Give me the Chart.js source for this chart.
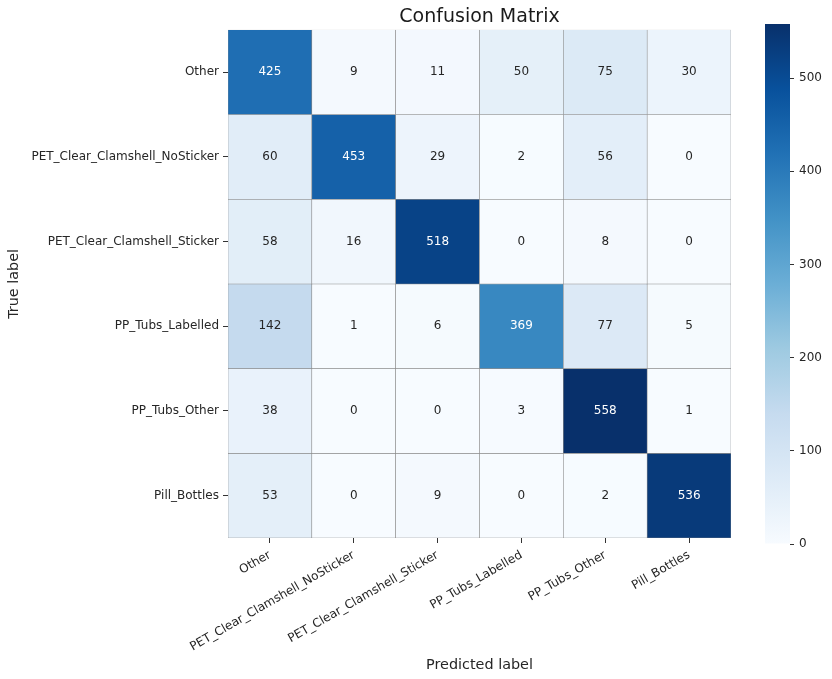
<!DOCTYPE html>
<html><head><meta charset="utf-8">
<script src="https://cdn.jsdelivr.net/npm/chart.js@4.4.1/dist/chart.umd.min.js"></script>
<style>
html,body{margin:0;padding:0;background:#fff;}
#wrap{position:relative;width:832px;height:679px;overflow:hidden;}
#c1box{position:absolute;left:0;top:0;width:832px;height:679px;}
#c2box{position:absolute;left:740px;top:0;width:92px;height:679px;}
</style></head><body>
<div id="wrap"><div id="c1box"><canvas id="c1"></canvas></div><div id="c2box"><canvas id="c2"></canvas></div></div>
<script>
// ---- data ----
const classLabels = ['Other','PET_Clear_Clamshell_NoSticker','PET_Clear_Clamshell_Sticker','PP_Tubs_Labelled','PP_Tubs_Other','Pill_Bottles'];
const rowOther          = [425,   9,  11,  50,  75,  30];
const rowNoSticker      = [ 60, 453,  29,   2,  56,   0];
const rowSticker        = [ 58,  16, 518,   0,   8,   0];
const rowTubsLabelled   = [142,   1,   6, 369,  77,   5];
const rowTubsOther      = [ 38,   0,   0,   3, 558,   1];
const rowPillBottles    = [ 53,   0,   9,   0,   2, 536];
const matrixRows = [rowOther,rowNoSticker,rowSticker,rowTubsLabelled,rowTubsOther,rowPillBottles];
const colorbarTicks = [0,100,200,300,400,500];
const vmin = 0;
const vmax = Math.max(...matrixRows.flat());

// ---- Blues colormap ----
const BLUES = [[247,251,255],[222,235,247],[198,219,239],[158,202,225],[107,174,214],[66,146,198],[33,113,181],[8,81,156],[8,48,107]];
function bluesRGB(t){
  t = Math.min(1, Math.max(0, t));
  const p = t*8, i = Math.min(7, Math.floor(p)), f = p - i;
  const a = BLUES[i], b = BLUES[i+1];
  return [0,1,2].map(k => Math.round(a[k] + (b[k]-a[k])*f));
}
function rgbStr(c){ return 'rgb(' + c.join(',') + ')'; }
function cellColor(v){ return rgbStr(bluesRGB((v - vmin)/(vmax - vmin))); }
function textColor(v){
  const c = bluesRGB((v - vmin)/(vmax - vmin)).map(x => { x/=255; return x <= 0.03928 ? x/12.92 : Math.pow((x+0.055)/1.055, 2.4); });
  const lum = 0.2126*c[0] + 0.7152*c[1] + 0.0722*c[2];
  return lum > 0.408 ? '#262626' : '#ffffff';
}

Chart.defaults.font.family = '"DejaVu Sans", sans-serif';
Chart.defaults.color = '#262626';

const cellText = {
  id: 'cellText',
  afterDatasetsDraw(chart){
    const ctx = chart.ctx;
    ctx.save();
    ctx.font = '12px "DejaVu Sans"';
    ctx.textAlign = 'center';
    ctx.textBaseline = 'middle';
    chart.data.datasets.forEach((ds, di) => {
      const meta = chart.getDatasetMeta(di);
      meta.data.forEach((el, ci) => {
        const v = matrixRows[di][ci];
        const p = el.getProps(['x','y','base'], true);
        ctx.fillStyle = textColor(v);
        ctx.fillText(String(v), p.x, (p.y + p.base)/2);
      });
    });
    ctx.restore();
  }
};

new Chart(document.getElementById('c1'), {
  type: 'bar',
  data: {
    labels: classLabels,
    datasets: matrixRows.map((row, ri) => ({
      label: classLabels[ri],
      data: row.map(() => [ri - 0.5, ri + 0.5]),
      backgroundColor: row.map(cellColor),
      borderColor: '#8c8c8c',
      borderWidth: 0.6,
      borderSkipped: false,
      categoryPercentage: 1,
      barPercentage: 1,
      grouped: false
    }))
  },
  options: {
    responsive: true,
    maintainAspectRatio: false,
    animation: false,
    events: [],
    layout: { padding: { left: 0, right: 101, top: 0, bottom: 2 } },
    plugins: {
      legend: { display: false },
      tooltip: { enabled: false },
      title: {
        display: true, text: 'Confusion Matrix', fullSize: false,
        color: '#1a1a1a',
        font: { size: 19, weight: 'normal' },
        padding: { top: 6, bottom: 1 }
      }
    },
    scales: {
      x: {
        type: 'category',
        offset: true,
        afterFit: s => { s.height = 139; },
        ticks: { minRotation: 30, maxRotation: 30, autoSkip: false, font: { size: 12 }, color: '#262626', padding: 5 },
        grid: { offset: false, drawOnChartArea: false, drawTicks: true, tickLength: 5, color: '#333' },
        border: { display: false },
        title: { display: true, text: 'Predicted label', color: '#262626', font: { size: 14.4 }, padding: { top: 4, bottom: 3 } }
      },
      y: {
        type: 'linear',
        min: -0.5, max: 5.5,
        reverse: true,
        afterBuildTicks: s => { s.ticks = classLabels.map((_, i) => ({ value: i })); },
        afterFit: s => { s.width = 228; },
        ticks: { callback: v => classLabels[v], font: { size: 12 }, color: '#262626', padding: 4, autoSkip: false },
        grid: { drawOnChartArea: false, drawTicks: true, tickLength: 5, color: '#333' },
        border: { display: false },
        title: { display: true, text: 'True label', color: '#262626', font: { size: 14.4 }, padding: { top: 6, bottom: 0 } }
      }
    }
  },
  plugins: [cellText]
});

new Chart(document.getElementById('c2'), {
  type: 'bar',
  data: {
    labels: ['colorbar'],
    datasets: [{
      data: [[vmin, vmax]],
      backgroundColor: (ctx) => {
        const chart = ctx.chart, a = chart.chartArea;
        if (!a) return rgbStr(BLUES[0]);
        const g = chart.ctx.createLinearGradient(0, a.bottom, 0, a.top);
        BLUES.forEach((c, i) => g.addColorStop(i/8, rgbStr(c)));
        return g;
      },
      borderWidth: 0,
      categoryPercentage: 1,
      barPercentage: 1,
      inflateAmount: 0
    }]
  },
  options: {
    responsive: true,
    maintainAspectRatio: false,
    animation: false,
    events: [],
    layout: { padding: { left: 25, right: 0, top: 24, bottom: 135 } },
    plugins: { legend: { display: false }, tooltip: { enabled: false } },
    scales: {
      x: { display: false },
      y: {
        position: 'right',
        min: vmin, max: vmax,
        afterBuildTicks: s => { s.ticks = colorbarTicks.map(v => ({ value: v })); },
        afterFit: s => { s.width = 42; },
        ticks: { font: { size: 12 }, color: '#262626', padding: 5 },
        grid: { drawOnChartArea: false, drawTicks: true, tickLength: 4, color: '#333' },
        border: { display: false }
      }
    }
  }
});
</script>
</body></html>
